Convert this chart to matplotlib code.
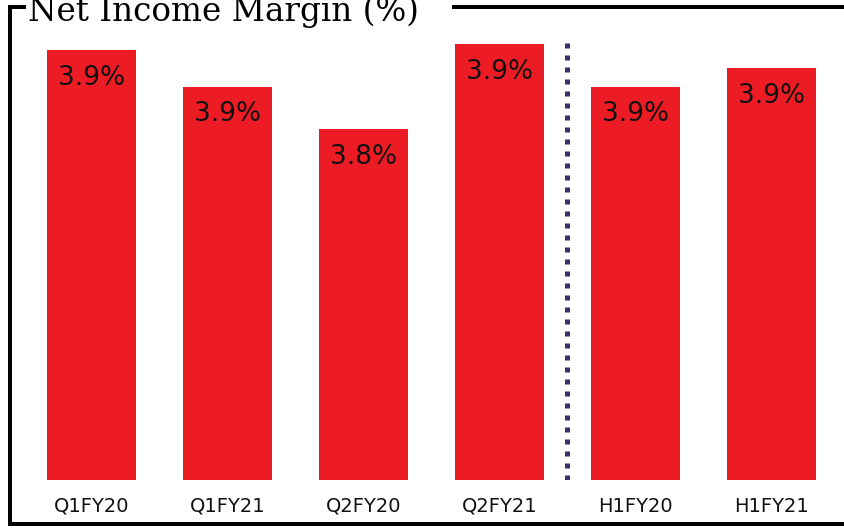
import matplotlib.pyplot as plt
from matplotlib.lines import Line2D

periods = ["Q1FY20", "Q1FY21", "Q2FY20", "Q2FY21", "H1FY20", "H1FY21"]
margins = [3.93, 3.87, 3.80, 3.94, 3.87, 3.90]
title = "Net Income Margin (%)"

W, H = 845, 528
fig = plt.figure(figsize=(W / 100, H / 100), dpi=100)
fig.patch.set_facecolor("white")

# axes placed in pixel terms: bars sit on y=480, plot top at y=36
left, right, top, bottom = 23.5, 839.5, 36, 480
ax = fig.add_axes([left / W, 1 - bottom / H, (right - left) / W, (bottom - top) / H])

base = 3.222
px_per_unit = 607
ymax = base + (bottom - top) / px_per_unit
ax.set_xlim(-0.5, len(periods) - 0.5)

x = range(len(periods))
ax.bar(x, margins, width=0.66, color="#ED1C24")
ax.set_ylim(base, ymax)

for xi, v in zip(x, margins):
    ax.annotate(f"{v:.1f}%", (xi, v), xytext=(0, -20), textcoords="offset points",
                ha="center", va="center", fontsize=19, color="#111111",
                family="DejaVu Sans")

# dotted separator between quarterly and half-year bars
ax.plot([3.5, 3.5], [base, ymax], color="#2B3760", lw=3.6,
        linestyle=(0, (1, 1.4)), dash_capstyle="butt")

ax.set_xticks(list(x))
ax.set_xticklabels(periods, fontsize=14, family="DejaVu Sans", color="#111111")
ax.tick_params(axis="x", length=0, pad=12)
ax.set_yticks([])
for s in ax.spines.values():
    s.set_visible(False)


def fline(xs, ys, lw=4):
    fig.add_artist(Line2D([a / W for a in xs], [1 - b / H for b in ys],
                          color="black", lw=lw * 0.72, solid_capstyle="projecting"))


# frame around the chart, with a gap in the top edge for the title
fline([10.5, 10.5], [8, 524])
fline([10.5, 845], [524, 524])
fline([10.5, 24], [7, 7])
fline([454, 845], [7, 7])

fig.text(28 / W, 1 - 21 / H, title, family="DejaVu Serif", fontsize=23.5,
         ha="left", va="baseline", color="black")

fig.savefig("out.png", dpi=100)
